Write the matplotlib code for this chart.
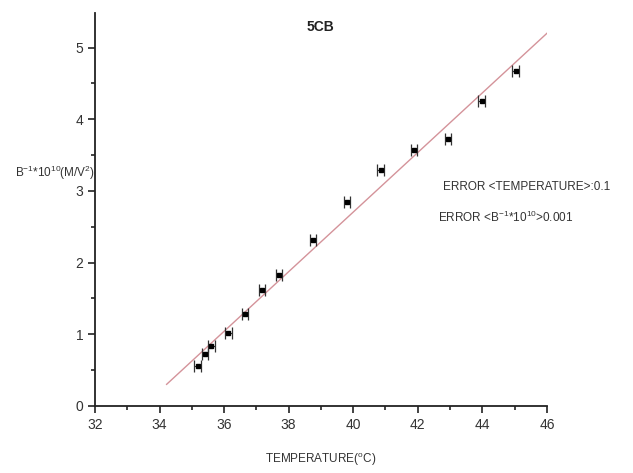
# 5CB: inverse field coefficient vs temperature, with linear fit

import numpy as np
import matplotlib.pyplot as plt

plt.rcParams['font.family'] = ['Liberation Sans', 'DejaVu Sans']

# data
temperature = [35.18, 35.41, 35.61, 36.13, 36.65, 37.17, 37.70, 38.75,
               39.80, 40.85, 41.89, 42.94, 43.98, 45.03]
b_inv = [0.56, 0.73, 0.84, 1.02, 1.28, 1.61, 1.82, 2.32,
         2.84, 3.29, 3.57, 3.73, 4.25, 4.68]
temp_err = 0.1
b_err = 0.001  # too small to see on this scale

# fitted line end points
fit_x = [34.22, 46.0]
fit_y = [0.30, 5.20]

fig = plt.figure(figsize=(6.33, 4.73), dpi=100)
ax = fig.add_axes([0.150, 0.142, 0.714, 0.830])

ax.plot(fit_x, fit_y, color='#d4939a', lw=1.0, zorder=1)
# horizontal bars with tall caps -> "H" shape
ax.errorbar(temperature, b_inv, xerr=temp_err, fmt='none',
            ecolor='#333333', elinewidth=0.8, capsize=4.3, capthick=0.9,
            zorder=2)
ax.errorbar(temperature, b_inv, yerr=b_err, fmt='s', color='black',
            ms=3.2, ecolor='black', elinewidth=0.8, capsize=0, zorder=3)

ax.set_xlim(32, 46)
ax.set_ylim(0, 5.48)
ax.set_xticks(np.arange(32, 47, 2))
ax.set_xticks(np.arange(33, 46, 2), minor=True)
ax.set_yticks(np.arange(0, 6, 1))
ax.set_yticks(np.arange(0.5, 5.5, 1), minor=True)

for side in ['top', 'right']:
    ax.spines[side].set_visible(False)
for side in ['left', 'bottom']:
    ax.spines[side].set_linewidth(1.3)
    ax.spines[side].set_color('#222222')

ax.tick_params(which='major', direction='out', length=5, width=1.2,
               labelsize=10, colors='#222222', labelcolor='#333333')
ax.tick_params(which='minor', direction='out', length=3, width=1.2,
               colors='#222222')

ax.set_xlabel(r'TEMPERATURE($^{\mathregular{o}}$C)', fontsize=8.5,
              color='#333333', labelpad=14)
fig.text(0.024, 0.635, r'B$^{\mathregular{-1}}$*10$^{\mathregular{10}}$(M/V$^{\mathregular{2}}$)',
         fontsize=8.5, color='#333333', va='center', ha='left')

fig.text(0.485, 0.943, '5CB', fontsize=10, color='#222222', ha='left',
         va='center', fontweight='bold')
fig.text(0.700, 0.605, 'ERROR <TEMPERATURE>:0.1', fontsize=8.5,
         color='#333333', ha='left', va='center')
fig.text(0.692, 0.540, r'ERROR <B$^{\mathregular{-1}}$*10$^{\mathregular{10}}$>0.001',
         fontsize=8.5, color='#333333', ha='left', va='center')

fig.savefig('out.png', dpi=100)
